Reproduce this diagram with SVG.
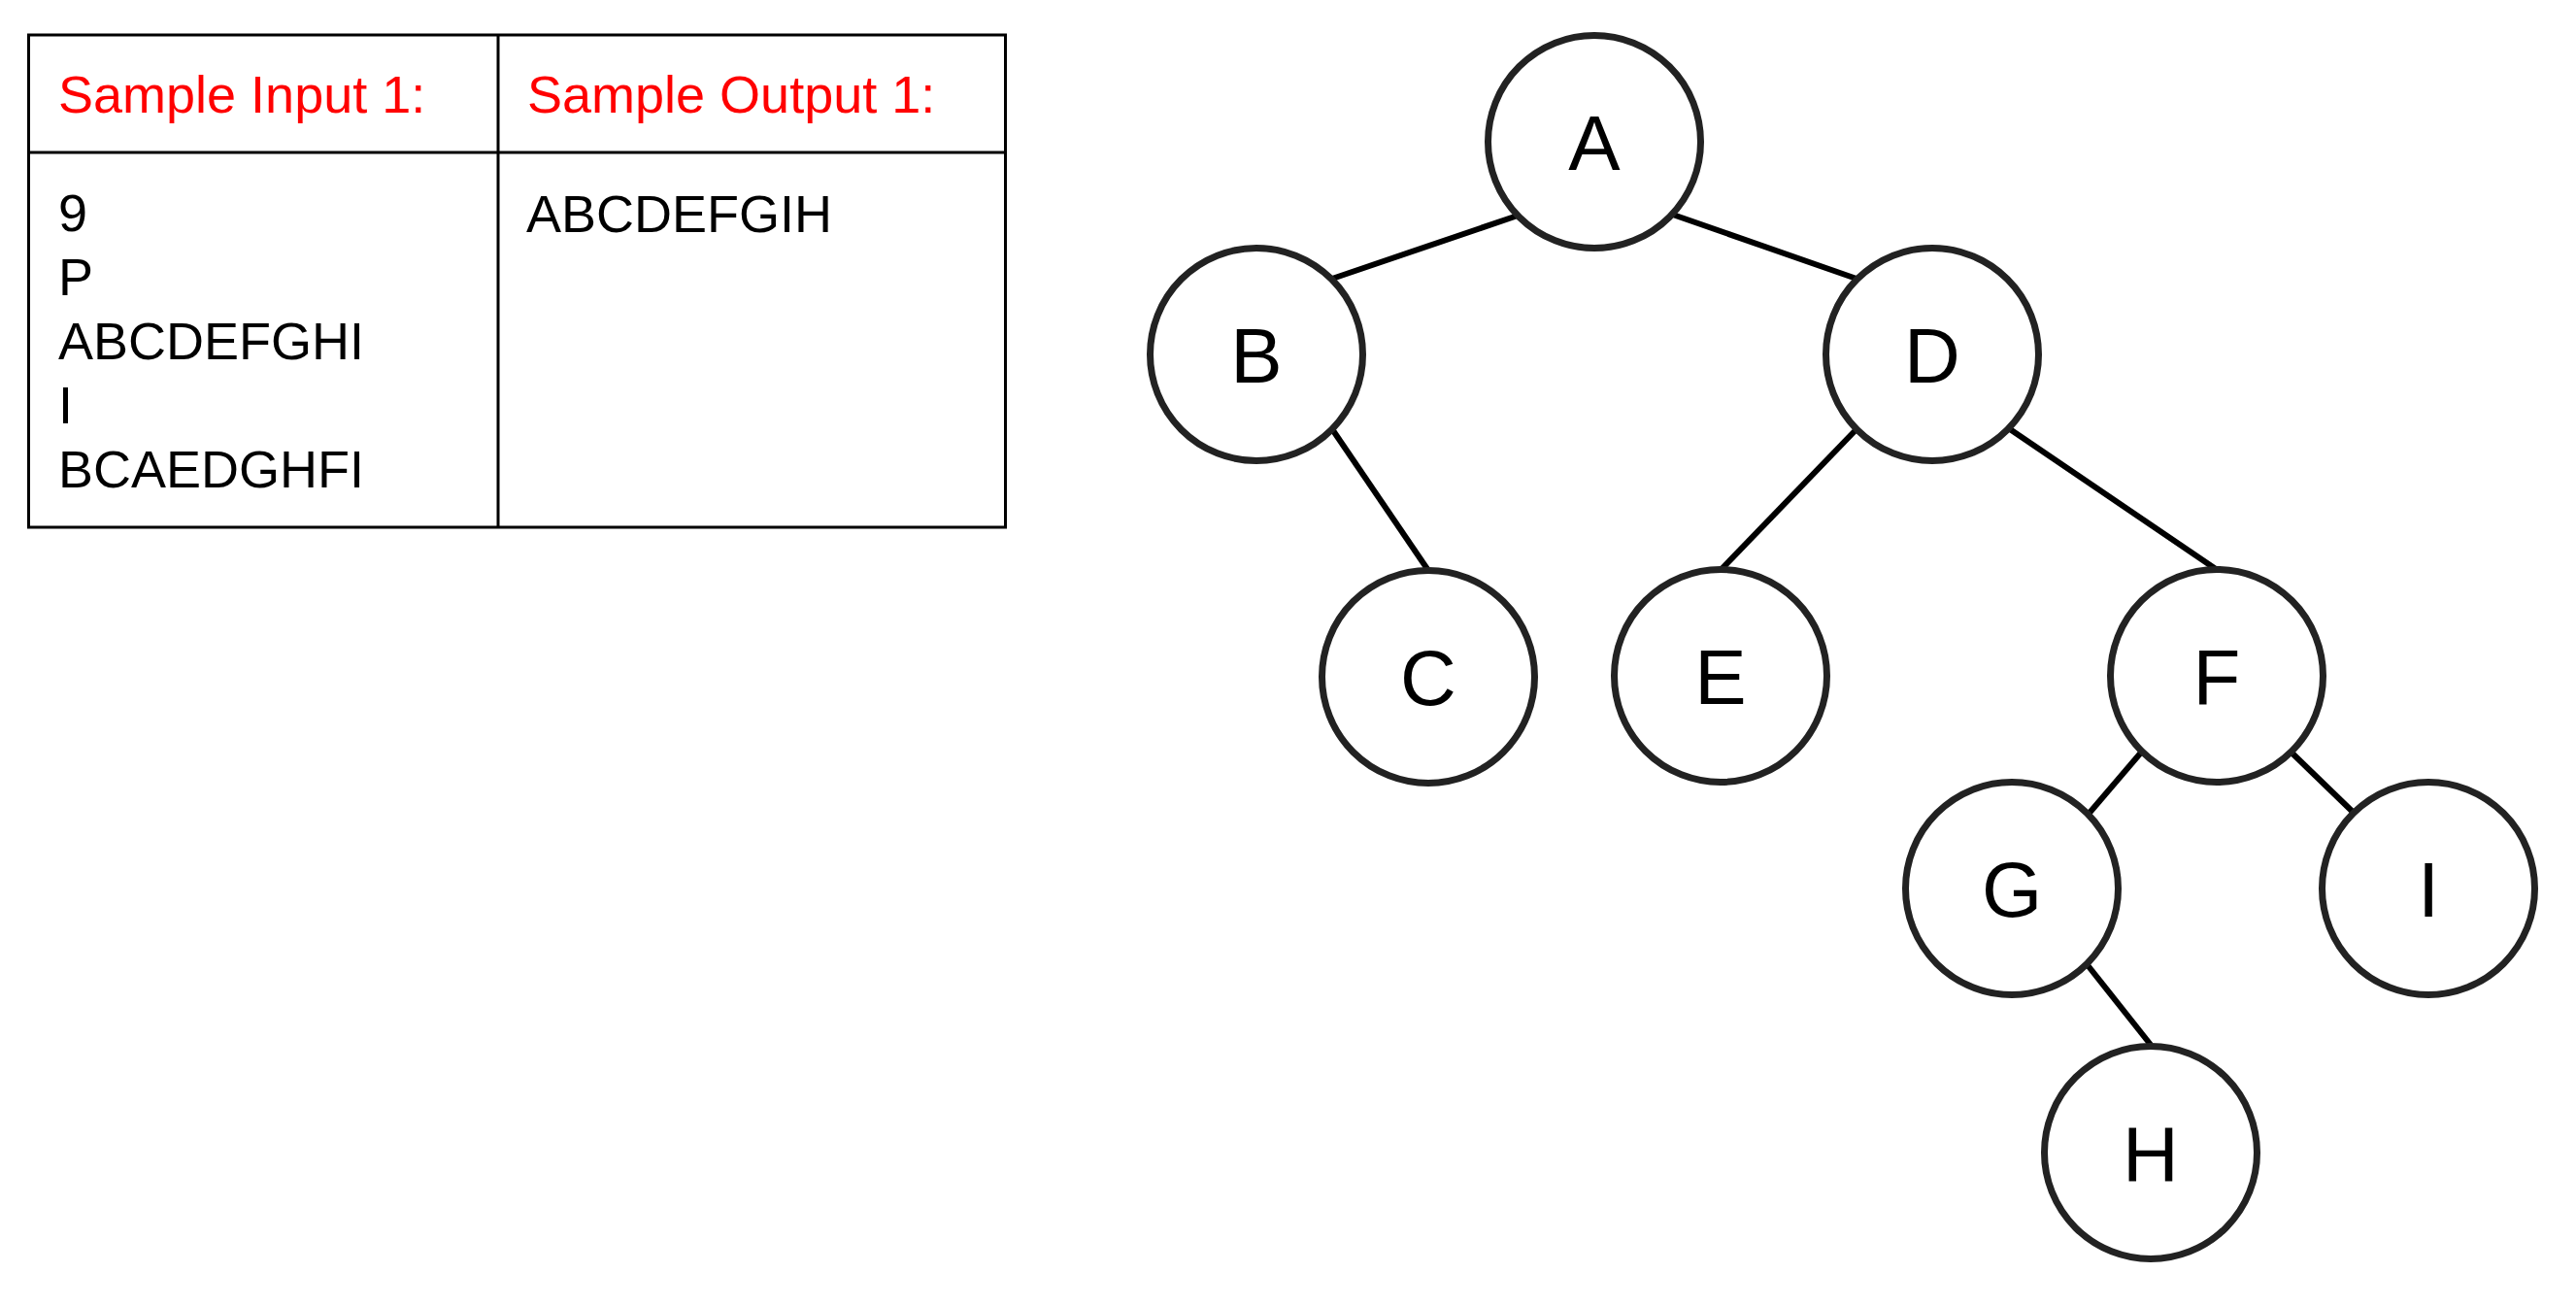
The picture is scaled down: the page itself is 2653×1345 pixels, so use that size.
<svg xmlns="http://www.w3.org/2000/svg" width="2653" height="1345" viewBox="0 0 2653 1345">
  <style>
    .cell { fill: none; stroke: #000; stroke-width: 3; }
    .head { font-family: "Liberation Sans", Arial, sans-serif; font-size: 54px; fill: #ff0000; }
    .body { font-family: "Liberation Sans", Arial, sans-serif; font-size: 54px; fill: #000; }
    .node circle { fill: #fff; stroke: #222; stroke-width: 7; }
    .node text { font-family: "Liberation Sans", Arial, sans-serif; font-size: 80px; fill: #000; text-anchor: middle; }
    .edge { stroke: #000; stroke-width: 6; fill: none; }
  </style>
  <rect width="2653" height="1345" fill="#fff"/>

  <!-- sample table -->
  <g id="table">
    <rect class="cell" x="29.5" y="36" width="1006" height="507"/>
    <line class="cell" x1="513" y1="36" x2="513" y2="543"/>
    <line class="cell" x1="29.5" y1="157" x2="1035.5" y2="157"/>
    <text class="head" x="60" y="116">Sample Input 1:</text>
    <text class="head" x="543" y="116">Sample Output 1:</text>
    <text class="body" x="60" y="238">9</text>
    <text class="body" x="60" y="304">P</text>
    <text class="body" x="60" y="370">ABCDEFGHI</text>
    <text class="body" x="60" y="436">I</text>
    <text class="body" x="60" y="502">BCAEDGHFI</text>
    <text class="body" x="542" y="239">ABCDEFGIH</text>
  </g>

  <!-- tree edges -->
  <g id="connectors">
    <line class="edge" x1="1563" y1="222" x2="1372" y2="287"/>
    <line class="edge" x1="1720" y1="220" x2="1912" y2="287"/>
    <line class="edge" x1="1372" y1="442" x2="1470" y2="586"/>
    <line class="edge" x1="1912" y1="442" x2="1773" y2="586"/>
    <line class="edge" x1="2070" y1="442" x2="2282" y2="586"/>
    <line class="edge" x1="2205" y1="775" x2="2152" y2="837"/>
    <line class="edge" x1="2360" y1="775" x2="2423" y2="836"/>
    <line class="edge" x1="2150" y1="994" x2="2215" y2="1076"/>
  </g>

  <!-- tree nodes -->
  <g id="node-A" class="node"><circle cx="1642" cy="146" r="109.5"/><text x="1642" y="175">A</text></g>
  <g id="node-B" class="node"><circle cx="1294" cy="365" r="109.5"/><text x="1294" y="394">B</text></g>
  <g id="node-D" class="node"><circle cx="1990" cy="365" r="109.5"/><text x="1990" y="394">D</text></g>
  <g id="node-C" class="node"><circle cx="1471" cy="697" r="109.5"/><text x="1471" y="726">C</text></g>
  <g id="node-E" class="node"><circle cx="1772" cy="696" r="109.5"/><text x="1772" y="725">E</text></g>
  <g id="node-F" class="node"><circle cx="2283" cy="696" r="109.5"/><text x="2283" y="725">F</text></g>
  <g id="node-G" class="node"><circle cx="2072" cy="915" r="109.5"/><text x="2072" y="944">G</text></g>
  <g id="node-I" class="node"><circle cx="2501" cy="915" r="109.5"/><text x="2501" y="944">I</text></g>
  <g id="node-H" class="node"><circle cx="2215" cy="1187" r="109.5"/><text x="2215" y="1216">H</text></g>
</svg>
